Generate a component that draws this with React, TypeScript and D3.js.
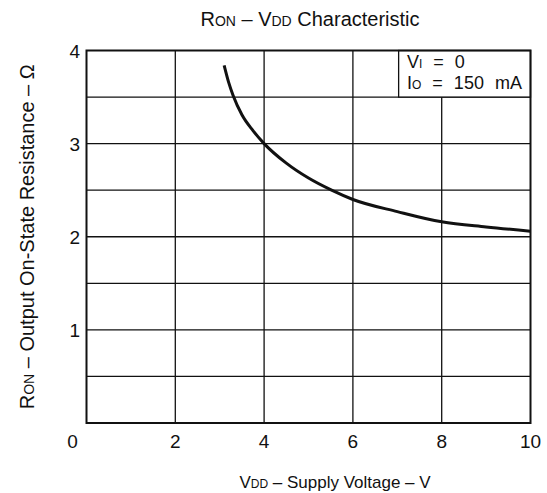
import * as d3 from 'd3';
import { useEffect, useRef } from 'react';

// curve
const vdd = [3.1, 3.2, 3.3, 3.5, 3.75, 4, 4.5, 5, 5.52, 6, 7, 8, 9, 10];
const ron = [3.84, 3.66, 3.52, 3.31, 3.14, 3.0, 2.79, 2.63, 2.5, 2.4, 2.27, 2.16, 2.105, 2.06];

const xTicks = [0, 2, 4, 6, 8, 10];
const yTicks = [1, 2, 3, 4];
const xGrid = [2, 4, 6, 8];
const yGrid = [0.5, 1, 1.5, 2, 2.5, 3, 3.5];

const W = 547;
const H = 493;
const FONT = '"Liberation Sans", Arial, Helvetica, sans-serif';
const INK = '#111';

const App = () => {
  const svgRef = useRef<SVGSVGElement>(null);

  useEffect(() => {
    const svg = d3.select(svgRef.current);
    svg.selectAll('*').remove();

    const x = d3.scaleLinear().domain([0, 10]).range([86.5, 530.5]);
    const y = d3.scaleLinear().domain([0, 4]).range([423, 50.5]);

    svg.append('rect').attr('width', W).attr('height', H).attr('fill', '#fff');

    // grid
    svg
      .selectAll('.vgrid')
      .data(xGrid)
      .join('line')
      .attr('class', 'vgrid')
      .attr('x1', (d) => x(d))
      .attr('x2', (d) => x(d))
      .attr('y1', y(0))
      .attr('y2', y(4))
      .attr('stroke', INK)
      .attr('stroke-width', 1.3);

    svg
      .selectAll('.hgrid')
      .data(yGrid)
      .join('line')
      .attr('class', 'hgrid')
      .attr('x1', x(0))
      .attr('x2', x(10))
      .attr('y1', (d) => y(d))
      .attr('y2', (d) => y(d))
      .attr('stroke', INK)
      .attr('stroke-width', 1.3);

    // legend box covers the grid in the upper right corner
    svg
      .append('rect')
      .attr('x', x(7.03))
      .attr('y', y(4))
      .attr('width', x(10) - x(7.03))
      .attr('height', y(3.5) - y(4))
      .attr('fill', '#fff')
      .attr('stroke', INK)
      .attr('stroke-width', 1.3);

    const leg = svg
      .append('text')
      .attr('font-family', FONT)
      .attr('font-size', 18)
      .attr('word-spacing', 6)
      .attr('fill', INK);
    const l1 = leg.append('tspan').attr('x', 407).attr('y', 68);
    l1.append('tspan').text('V');
    l1.append('tspan').attr('font-size', 12).text('I');
    l1.append('tspan').text(' = 0');
    const l2 = leg.append('tspan').attr('x', 407).attr('y', 89);
    l2.append('tspan').text('I');
    l2.append('tspan').attr('font-size', 12).text('O');
    l2.append('tspan').text(' = 150 mA');

    // frame
    svg
      .append('rect')
      .attr('x', x(0))
      .attr('y', y(4))
      .attr('width', x(10) - x(0))
      .attr('height', y(0) - y(4))
      .attr('fill', 'none')
      .attr('stroke', INK)
      .attr('stroke-width', 2);

    // curve
    const line = d3
      .line<number>()
      .x((_, i) => x(vdd[i]))
      .y((d) => y(d))
      .curve(d3.curveMonotoneX);

    svg
      .append('path')
      .datum(ron)
      .attr('d', line)
      .attr('fill', 'none')
      .attr('stroke', INK)
      .attr('stroke-width', 3);

    // tick labels
    svg
      .selectAll('.xlab')
      .data(xTicks)
      .join('text')
      .attr('class', 'xlab')
      .attr('x', (d) => (d === 0 ? x(d) - 14 : x(d)))
      .attr('y', 448)
      .attr('text-anchor', 'middle')
      .attr('font-family', FONT)
      .attr('font-size', 19)
      .attr('fill', INK)
      .text((d) => d);

    svg
      .selectAll('.ylab')
      .data(yTicks)
      .join('text')
      .attr('class', 'ylab')
      .attr('x', 80)
      .attr('y', (d) => y(d) + 7)
      .attr('text-anchor', 'end')
      .attr('font-family', FONT)
      .attr('font-size', 19)
      .attr('fill', INK)
      .text((d) => d);

    // title
    const title = svg
      .append('text')
      .attr('x', 310)
      .attr('y', 26)
      .attr('text-anchor', 'middle')
      .attr('font-family', FONT)
      .attr('font-size', 20)
      .attr('fill', INK);
    title.append('tspan').text('R');
    title.append('tspan').attr('font-size', 14).text('ON');
    title.append('tspan').text(' – V');
    title.append('tspan').attr('font-size', 14).text('DD');
    title.append('tspan').text(' Characteristic');

    // x axis label
    const xl = svg
      .append('text')
      .attr('x', 335)
      .attr('y', 488)
      .attr('text-anchor', 'middle')
      .attr('font-family', FONT)
      .attr('font-size', 17)
      .attr('fill', INK);
    xl.append('tspan').text('V');
    xl.append('tspan').attr('font-size', 12).text('DD');
    xl.append('tspan').text(' – Supply Voltage – V');

    // y axis label
    const yl = svg
      .append('text')
      .attr('transform', `translate(34, ${(y(0) + y(4)) / 2}) rotate(-90)`)
      .attr('text-anchor', 'middle')
      .attr('font-family', FONT)
      .attr('font-size', 20)
      .attr('fill', INK);
    yl.append('tspan').text('R');
    yl.append('tspan').attr('font-size', 14).text('ON');
    yl.append('tspan').text(' – Output On-State Resistance – Ω');
  }, []);

  return (
    <div style={{ position: 'absolute', left: 0, top: 0 }}>
      <svg ref={svgRef} width={W} height={H} style={{ display: 'block' }}></svg>
    </div>
  );
};

export default App;
